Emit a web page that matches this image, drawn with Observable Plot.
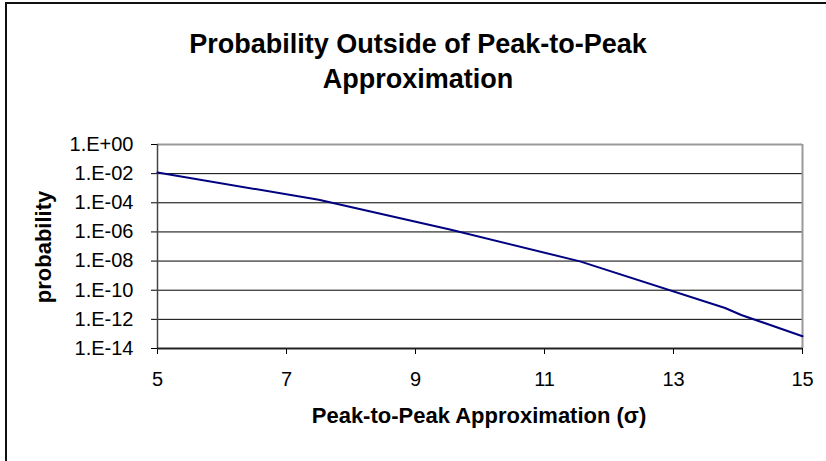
<!DOCTYPE html>
<html>
<head>
<meta charset="utf-8">
<script src="https://cdn.jsdelivr.net/npm/d3@7"></script>
<script src="https://cdn.jsdelivr.net/npm/@observablehq/plot@0.6"></script>
<style>
  html, body { margin: 0; padding: 0; background: #fff; overflow: hidden; }
  #wrap { position: relative; width: 826px; height: 461px; overflow: hidden; font-family: "Liberation Sans", Arial, sans-serif; }
  #border { position: absolute; left: 5px; top: 2px; width: 1000px; height: 1000px; border: 2px solid #111; box-sizing: border-box; }
  .t { position: absolute; font-weight: bold; color: #000; white-space: nowrap; }
  #title { left: 0; width: 836px; top: 27px; text-align: center; font-size: 27px; line-height: 35px; }
  #xlabel { left: 157px; width: 644px; top: 403px; text-align: center; font-size: 22px; line-height: 26px; }
  #ylabel { left: 44px; top: 247px; font-size: 22px; line-height: 26px; transform: translate(-50%, -50%) rotate(-90deg); }
  #chart { position: absolute; left: 0; top: 0; }
</style>
</head>
<body>
<div id="wrap">
  <div id="chart"></div>
  <div id="border"></div>
  <div id="title" class="t">Probability Outside of Peak-to-Peak<br>Approximation</div>
  <div id="ylabel" class="t">probability</div>
  <div id="xlabel" class="t">Peak-to-Peak Approximation (σ)</div>
</div>
<script>
// data
const sigma = [5, 7.5, 9.55, 11.55, 13.8, 14.05, 15];
const probability = [1.2e-2, 1.6e-4, 1.4e-6, 9.5e-9, 6.0e-12, 2.0e-12, 7.0e-14];
const xTicks = [5, 7, 9, 11, 13, 15];
const yTicks = [1e0, 1e-2, 1e-4, 1e-6, 1e-8, 1e-10, 1e-12, 1e-14];

const rows = sigma.map((s, i) => ({s, p: probability[i]}));
const fmt = d => {
  const e = Math.round(Math.log10(d));
  return "1.E" + (e >= 0 ? "+" : "-") + String(Math.abs(e)).padStart(2, "0");
};

const chart = Plot.plot({
  width: 826,
  height: 461,
  marginLeft: 157,
  marginRight: 24,
  marginTop: 144,
  marginBottom: 113,
  style: {fontFamily: "'Liberation Sans', Arial, sans-serif", color: "#000", background: "transparent"},
  x: {domain: [5, 15], label: null},
  y: {type: "log", domain: [1e-14, 1], label: null},
  marks: [
    Plot.ruleY(yTicks.slice(1, -1), {stroke: "#000", strokeWidth: 1}),
    Plot.ruleY([1], {stroke: "#999", strokeWidth: 2}),
    Plot.ruleX([15], {stroke: "#999", strokeWidth: 2}),
    Plot.axisY({ticks: yTicks, tickFormat: fmt, tickSize: 6, tickPadding: 18, stroke: "#000", strokeOpacity: 1, fontSize: 20, label: null}),
    Plot.axisX({ticks: xTicks, tickFormat: d => String(d), tickSize: 6, tickPadding: 17, stroke: "#000", strokeOpacity: 1, fontSize: 20, label: null}),
    Plot.ruleX([5], {stroke: "#444", strokeWidth: 1.5}),
    Plot.ruleY([1e-14], {stroke: "#222", strokeWidth: 2}),
    Plot.line(rows, {x: "s", y: "p", stroke: "#000080", strokeWidth: 2})
  ]
});
document.getElementById("chart").appendChild(chart);
</script>
</body>
</html>
